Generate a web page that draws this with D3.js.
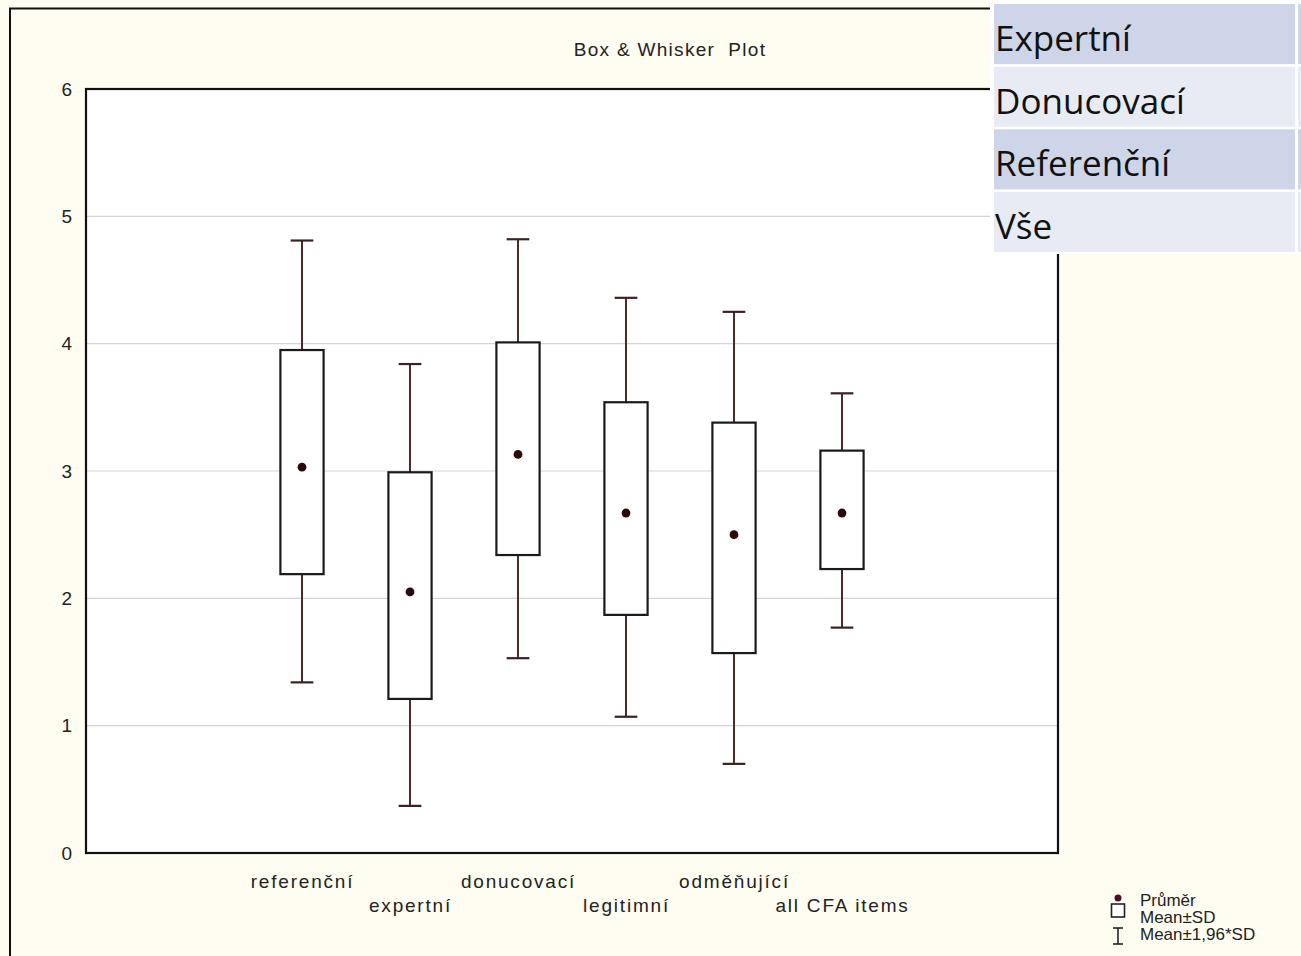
<!DOCTYPE html>
<html>
<head>
<meta charset="utf-8">
<script src="https://cdn.jsdelivr.net/npm/d3@7/dist/d3.min.js"></script>
<style>
  body { margin: 0; background: #fffdf2; }
  svg { display: block; }
  .lbl { font-family: "Liberation Sans Narrow", "Liberation Sans", Arial, sans-serif; fill: #222; }
  .tbl { font-family: "Open Sans", "Noto Sans", sans-serif; fill: #111; }
</style>
</head>
<body>
<svg id="chart" width="1301" height="956"></svg>
<script>
// ---- data ----
const categories = ["referenční", "expertní", "donucovací", "legitimní", "odměňující", "all CFA items"];
const means  = [3.03, 2.05, 3.13, 2.67, 2.50, 2.67];
const sdLow  = [2.19, 1.21, 2.34, 1.87, 1.57, 2.23];
const sdHigh = [3.95, 2.99, 4.01, 3.54, 3.38, 3.16];
const ciLow  = [1.34, 0.37, 1.53, 1.07, 0.70, 1.77];
const ciHigh = [4.81, 3.84, 4.82, 4.36, 4.25, 3.61];
const yTicks = [0, 1, 2, 3, 4, 5, 6];
const title = "Box & Whisker  Plot";
const tableRows = ["Expertní", "Donucovací", "Referenční", "Vše"];
const legendLabels = ["Průměr", "Mean±SD", "Mean±1,96*SD"];

// ---- layout ----
const W = 1301, H = 956;
const plot = { left: 86, right: 1058, top: 89, bottom: 853 };
const svg = d3.select("#chart");

// outer panel
svg.append("rect").attr("x", 0).attr("y", 0).attr("width", W).attr("height", H).attr("fill", "#fffdf2");
svg.append("path").attr("d", `M10,${H} L10,8.5 L${W},8.5`).attr("fill", "none").attr("stroke", "#111").attr("stroke-width", 2);

const x = d3.scalePoint().domain(categories).range([plot.left, plot.right]).padding(2);
const y = d3.scaleLinear().domain([0, 6]).range([plot.bottom, plot.top]);

// plot background
svg.append("rect").attr("x", plot.left).attr("y", plot.top)
  .attr("width", plot.right - plot.left).attr("height", plot.bottom - plot.top).attr("fill", "#fff");

// grid
svg.append("g").selectAll("line").data(yTicks.filter(t => t > 0 && t < 6)).join("line")
  .attr("x1", plot.left).attr("x2", plot.right)
  .attr("y1", d => y(d)).attr("y2", d => y(d))
  .attr("stroke", "#d4d4d4").attr("stroke-width", 1.2);

// y axis labels
const yAxis = d3.axisLeft(y).tickValues(yTicks).tickSize(0).tickPadding(14).tickFormat(d3.format("d"));
const ya = svg.append("g").attr("transform", `translate(${plot.left},0)`).call(yAxis);
ya.select(".domain").remove();
ya.selectAll("text").attr("class", "lbl").attr("font-size", 19).attr("fill", "#333");

// plot frame
svg.append("rect").attr("x", plot.left).attr("y", plot.top)
  .attr("width", plot.right - plot.left).attr("height", plot.bottom - plot.top)
  .attr("fill", "none").attr("stroke", "#111").attr("stroke-width", 2.2);

// x labels (alternating rows)
const xAxis = d3.axisBottom(x).tickSize(0).tickPadding(0);
const xa = svg.append("g").attr("transform", `translate(0,${plot.bottom})`).call(xAxis);
xa.select(".domain").remove();
xa.selectAll("text").attr("class", "lbl").attr("font-size", 19).attr("letter-spacing", 1.8)
  .attr("fill", "#222")
  .attr("dy", null)
  .attr("y", (d, i) => i % 2 === 0 ? 35 : 59);

// boxes
const step = x.step();
const boxW = step * 0.4;
const capW = step * 0.21;
const data = categories.map((c, i) => ({ c, m: means[i], lo: sdLow[i], hi: sdHigh[i], wl: ciLow[i], wh: ciHigh[i] }));
const whiskerColor = "#4a2a2a";
const g = svg.append("g").selectAll("g").data(data).join("g");
// whisker stems
g.append("line").attr("x1", d => x(d.c)).attr("x2", d => x(d.c))
  .attr("y1", d => y(d.wh)).attr("y2", d => y(d.hi)).attr("stroke", whiskerColor).attr("stroke-width", 2);
g.append("line").attr("x1", d => x(d.c)).attr("x2", d => x(d.c))
  .attr("y1", d => y(d.lo)).attr("y2", d => y(d.wl)).attr("stroke", whiskerColor).attr("stroke-width", 2);
// caps
g.append("line").attr("x1", d => x(d.c) - capW / 2).attr("x2", d => x(d.c) + capW / 2)
  .attr("y1", d => y(d.wh)).attr("y2", d => y(d.wh)).attr("stroke", "#3a2222").attr("stroke-width", 2.2);
g.append("line").attr("x1", d => x(d.c) - capW / 2).attr("x2", d => x(d.c) + capW / 2)
  .attr("y1", d => y(d.wl)).attr("y2", d => y(d.wl)).attr("stroke", "#3a2222").attr("stroke-width", 2.2);
// box
g.append("rect").attr("x", d => x(d.c) - boxW / 2).attr("width", boxW)
  .attr("y", d => y(d.hi)).attr("height", d => y(d.lo) - y(d.hi))
  .attr("fill", "#fff").attr("stroke", "#1a1a1a").attr("stroke-width", 2.2);
// mean
g.append("circle").attr("cx", d => x(d.c)).attr("cy", d => y(d.m)).attr("r", 4.4).attr("fill", "#2a0a0a");

// title
svg.append("text").attr("class", "lbl").attr("x", 670).attr("y", 56)
  .attr("text-anchor", "middle").attr("font-size", 19).attr("letter-spacing", 1.3)
  .attr("fill", "#333").attr("xml:space", "preserve").style("white-space", "pre").text(title);

// legend
const lg = svg.append("g").attr("transform", "translate(1118,0)");
lg.append("circle").attr("cx", 0).attr("cy", 898).attr("r", 3.5).attr("fill", "#4a1020");
lg.append("rect").attr("x", -6.5).attr("y", 904).attr("width", 13).attr("height", 13).attr("fill", "#fff").attr("stroke", "#222").attr("stroke-width", 1.6);
lg.append("line").attr("x1", 0).attr("x2", 0).attr("y1", 928).attr("y2", 944).attr("stroke", "#222").attr("stroke-width", 1.6);
lg.append("line").attr("x1", -5).attr("x2", 5).attr("y1", 928).attr("y2", 928).attr("stroke", "#222").attr("stroke-width", 1.6);
lg.append("line").attr("x1", -5).attr("x2", 5).attr("y1", 944).attr("y2", 944).attr("stroke", "#222").attr("stroke-width", 1.6);
lg.selectAll("text.leg").data(legendLabels).join("text").attr("class", "lbl leg")
  .attr("x", 22).attr("y", (d, i) => 906 + i * 17).attr("font-size", 17).attr("fill", "#444").text(d => d);

// table overlay (top right)
const rowY = d3.scaleBand().domain(tableRows).range([4, 252]).paddingInner(0.04);
svg.append("rect").attr("x", 990).attr("y", 0).attr("width", W - 990).attr("height", 254).attr("fill", "#fff");
const tr = svg.append("g").selectAll("g").data(tableRows).join("g");
tr.append("rect").attr("x", 994).attr("y", d => rowY(d)).attr("width", 1295 - 994).attr("height", rowY.bandwidth())
  .attr("fill", (d, i) => i % 2 === 0 ? "#cfd5e8" : "#e8ebf4");
tr.append("rect").attr("x", 1298).attr("y", d => rowY(d)).attr("width", 10).attr("height", rowY.bandwidth())
  .attr("fill", (d, i) => i % 2 === 0 ? "#cfd5e8" : "#e8ebf4");
tr.append("text").attr("class", "tbl").attr("x", 995).attr("y", d => rowY(d) + rowY.bandwidth() * 0.78)
  .attr("font-size", 35).text(d => d);
</script>
</body>
</html>
